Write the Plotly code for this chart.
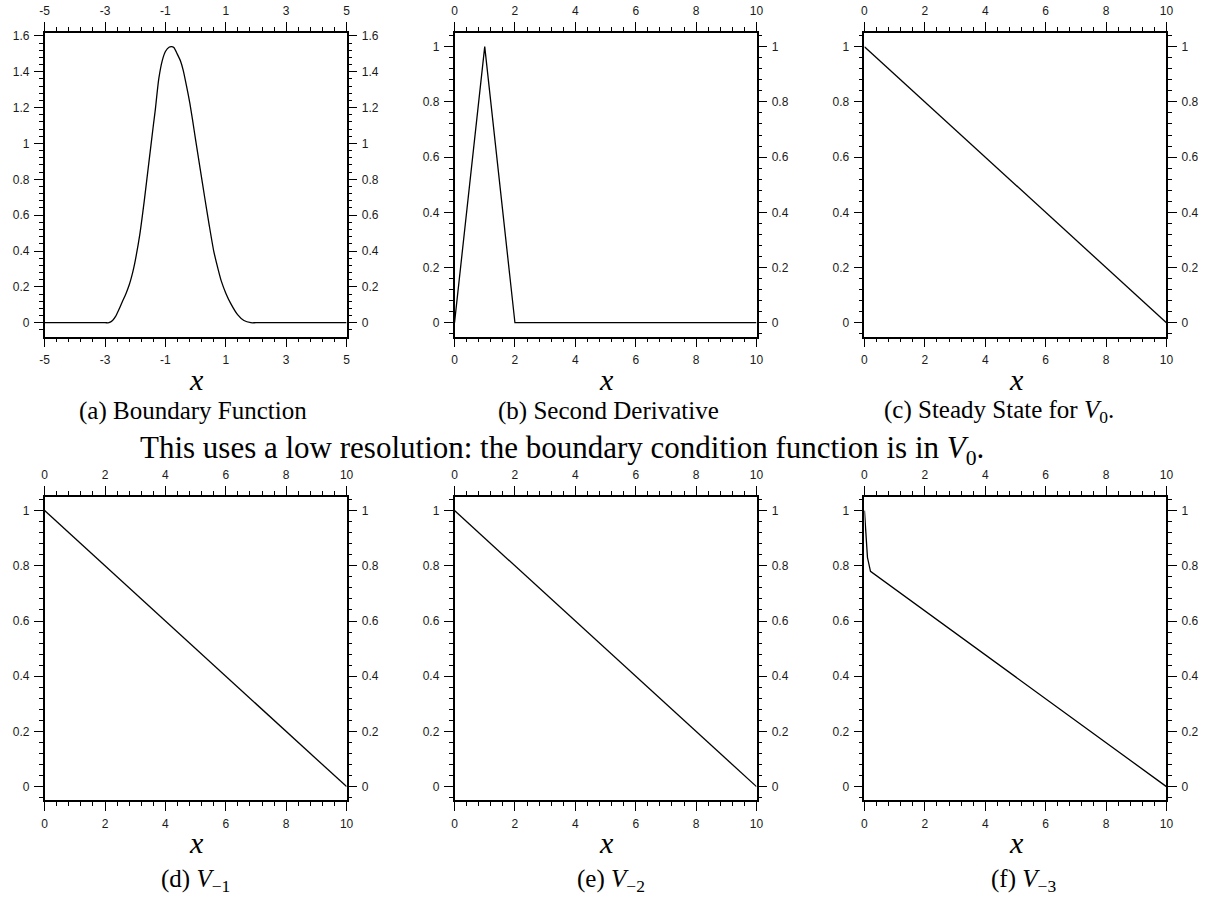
import plotly.graph_objects as go

W, H = 1218, 900

# ---------------- data ----------------
bump_x = [-5, -3, -2.87, -2.75, -2.65, -2.55, -2.43, -2.3, -2.2, -2.13, -2.05, -2.0, -1.85,
          -1.7, -1.55, -1.40, -1.34, -1.22, -1.1, -1.0, -0.88, -0.80, -0.72, -0.61, -0.5,
          -0.41, -0.3, -0.19, -0.10, 0.0, 0.15, 0.3, 0.45, 0.6, 0.75, 0.846, 1.0, 1.17,
          1.39, 1.6, 1.83, 2.0, 5]
bump_y = [0, 0, 0, 0.012, 0.035, 0.07, 0.116, 0.165, 0.21, 0.25, 0.305, 0.345, 0.49,
          0.68, 0.89, 1.10, 1.18, 1.36, 1.465, 1.513, 1.537, 1.54, 1.535, 1.50, 1.46,
          1.408, 1.32, 1.224, 1.13, 1.02, 0.86, 0.70, 0.545, 0.40, 0.295, 0.235, 0.165, 0.105,
          0.045, 0.012, 0, 0, 0]

deriv_x = [0, 1, 2, 10]
deriv_y = [0, 1, 0, 0]

steady_x = [0, 10]
steady_y = [1, 0]

vm1_x = [0, 10]
vm1_y = [1, 0]

vm2_x = [0, 10]
vm2_y = [1, 0]

vm3_x = [0, 0.1, 0.2, 10]
vm3_y = [1.0, 0.83, 0.78, 0.0]

xticks_a = [-5, -3, -1, 1, 3, 5]
xticks_a_text = ['-5', '-3', '-1', '1', '3', '5']
xticks = [0, 2, 4, 6, 8, 10]
xticks_text = ['0', '2', '4', '6', '8', '10']
yticks_a = [0, 0.2, 0.4, 0.6, 0.8, 1.0, 1.2, 1.4, 1.6]
yticks_a_text = ['0', '0.2', '0.4', '0.6', '0.8', '1', '1.2', '1.4', '1.6']
yticks = [0, 0.2, 0.4, 0.6, 0.8, 1.0]
yticks_text = ['0', '0.2', '0.4', '0.6', '0.8', '1']

captions = [
    '(a) Boundary Function',
    '(b) Second Derivative',
    '(c) Steady State for <i>V</i><sub>0</sub>.',
    '(d) <i>V</i><sub>\u22121</sub>',
    '(e) <i>V</i><sub>\u22122</sub>',
    '(f) <i>V</i><sub>\u22123</sub>',
]
sentence = 'This uses a low resolution: the boundary condition function is in <i>V</i><sub>0</sub>.'

# ---------------- layout geometry (pixels) ----------------
col_px = [(40, 345), (454, 759), (868, 1173)]
row_px = [(29, 334), (495, 800)]
caption_cx = [190, 610, 1004, 192, 612, 1029]
caption_cy = [409, 409, 409, 880, 880, 880]


def px_x(p):
    return p / W


def px_y(p):
    return 1 - p / H


panels = [
    dict(x=bump_x, y=bump_y, xr=[-5, 5], yr=[-0.077, 1.617], xt=xticks_a, xtt=xticks_a_text,
         yt=yticks_a, ytt=yticks_a_text, x0=-5),
    dict(x=deriv_x, y=deriv_y, xr=[0, 10], yr=[-0.05, 1.05], xt=xticks, xtt=xticks_text,
         yt=yticks, ytt=yticks_text, x0=0),
    dict(x=steady_x, y=steady_y, xr=[0, 10], yr=[-0.05, 1.05], xt=xticks, xtt=xticks_text,
         yt=yticks, ytt=yticks_text, x0=0),
    dict(x=vm1_x, y=vm1_y, xr=[0, 10], yr=[-0.05, 1.05], xt=xticks, xtt=xticks_text,
         yt=yticks, ytt=yticks_text, x0=0),
    dict(x=vm2_x, y=vm2_y, xr=[0, 10], yr=[-0.05, 1.05], xt=xticks, xtt=xticks_text,
         yt=yticks, ytt=yticks_text, x0=0),
    dict(x=vm3_x, y=vm3_y, xr=[0, 10], yr=[-0.05, 1.05], xt=xticks, xtt=xticks_text,
         yt=yticks, ytt=yticks_text, x0=0),
]

tickfont = dict(family='Liberation Sans, Arial, sans-serif', size=12, color='#1a1a1a')


def axis_style(rng, tv, tt, minor_dtick, minor_tick0):
    return dict(
        range=rng, tickmode='array', tickvals=tv, ticktext=tt,
        showline=True, linecolor='black', linewidth=1.5,
        ticks='outside', ticklen=9, tickwidth=1, tickcolor='black',
        showgrid=False, zeroline=False, tickfont=tickfont, ticklabelstandoff=2,
        minor=dict(ticks='outside', ticklen=4, tickwidth=1, tickcolor='black',
                   tickmode='linear', dtick=minor_dtick, tick0=minor_tick0, showgrid=False),
    )


fig = go.Figure()
layout = {}
n = len(panels)
for i, p in enumerate(panels):
    r, c = divmod(i, 3)
    k = i + 1
    ko = i + 1 + n
    xs = '' if k == 1 else str(k)
    xd = [px_x(col_px[c][0]), px_x(col_px[c][1])]
    yd = [px_y(row_px[r][1]), px_y(row_px[r][0])]

    fig.add_trace(go.Scatter(x=p['x'], y=p['y'], mode='lines',
                             line=dict(color='black', width=1.3, shape='spline', smoothing=0.6)
                             if i == 0 else dict(color='black', width=1.3),
                             xaxis='x' + xs, yaxis='y' + xs, showlegend=False,
                             hoverinfo='skip'))
    fig.add_trace(go.Scatter(x=[], y=[], mode='lines', xaxis='x' + str(ko), yaxis='y' + str(ko),
                             showlegend=False, hoverinfo='skip'))

    xa = axis_style(p['xr'], p['xt'], p['xtt'], 0.4, p['x0'])
    xa.update(domain=xd, anchor='y' + xs, side='bottom')
    ya = axis_style(p['yr'], p['yt'], p['ytt'], 0.04, 0)
    ya.update(domain=yd, anchor='x' + xs, side='left')
    xo = axis_style(p['xr'], p['xt'], p['xtt'], 0.4, p['x0'])
    xo.update(overlaying='x' + xs, anchor='y' + xs, side='top')
    yo = axis_style(p['yr'], p['yt'], p['ytt'], 0.04, 0)
    yo.update(overlaying='y' + xs, anchor='x' + xs, side='right')

    layout['xaxis' + xs] = xa
    layout['yaxis' + xs] = ya
    layout['xaxis' + str(ko)] = xo
    layout['yaxis' + str(ko)] = yo

annotations = []
serif = 'Liberation Serif, Times New Roman, serif'
for i in range(n):
    r, c = divmod(i, 3)
    cx = (col_px[c][0] + col_px[c][1]) / 2
    xlab_y = 377 if r == 0 else 842
    annotations.append(dict(text='<i>x</i>', x=px_x(cx + 1), y=px_y(xlab_y), xref='paper', yref='paper',
                            showarrow=False, xanchor='center', yanchor='middle',
                            font=dict(family=serif, size=30, color='black')))
    annotations.append(dict(text=captions[i], x=px_x(caption_cx[i]), y=px_y(caption_cy[i]),
                            xref='paper', yref='paper', showarrow=False,
                            xanchor='center', yanchor='middle',
                            font=dict(family=serif, size=25, color='black')))
annotations.append(dict(text=sentence, x=px_x(563), y=px_y(448), xref='paper', yref='paper',
                        showarrow=False, xanchor='center', yanchor='middle',
                        font=dict(family=serif, size=31, color='black')))

fig.update_layout(
    width=W, height=H, autosize=False,
    margin=dict(l=0, r=0, t=0, b=0),
    paper_bgcolor='white', plot_bgcolor='white',
    annotations=annotations,
    **layout,
)

fig.write_html('out.html')
